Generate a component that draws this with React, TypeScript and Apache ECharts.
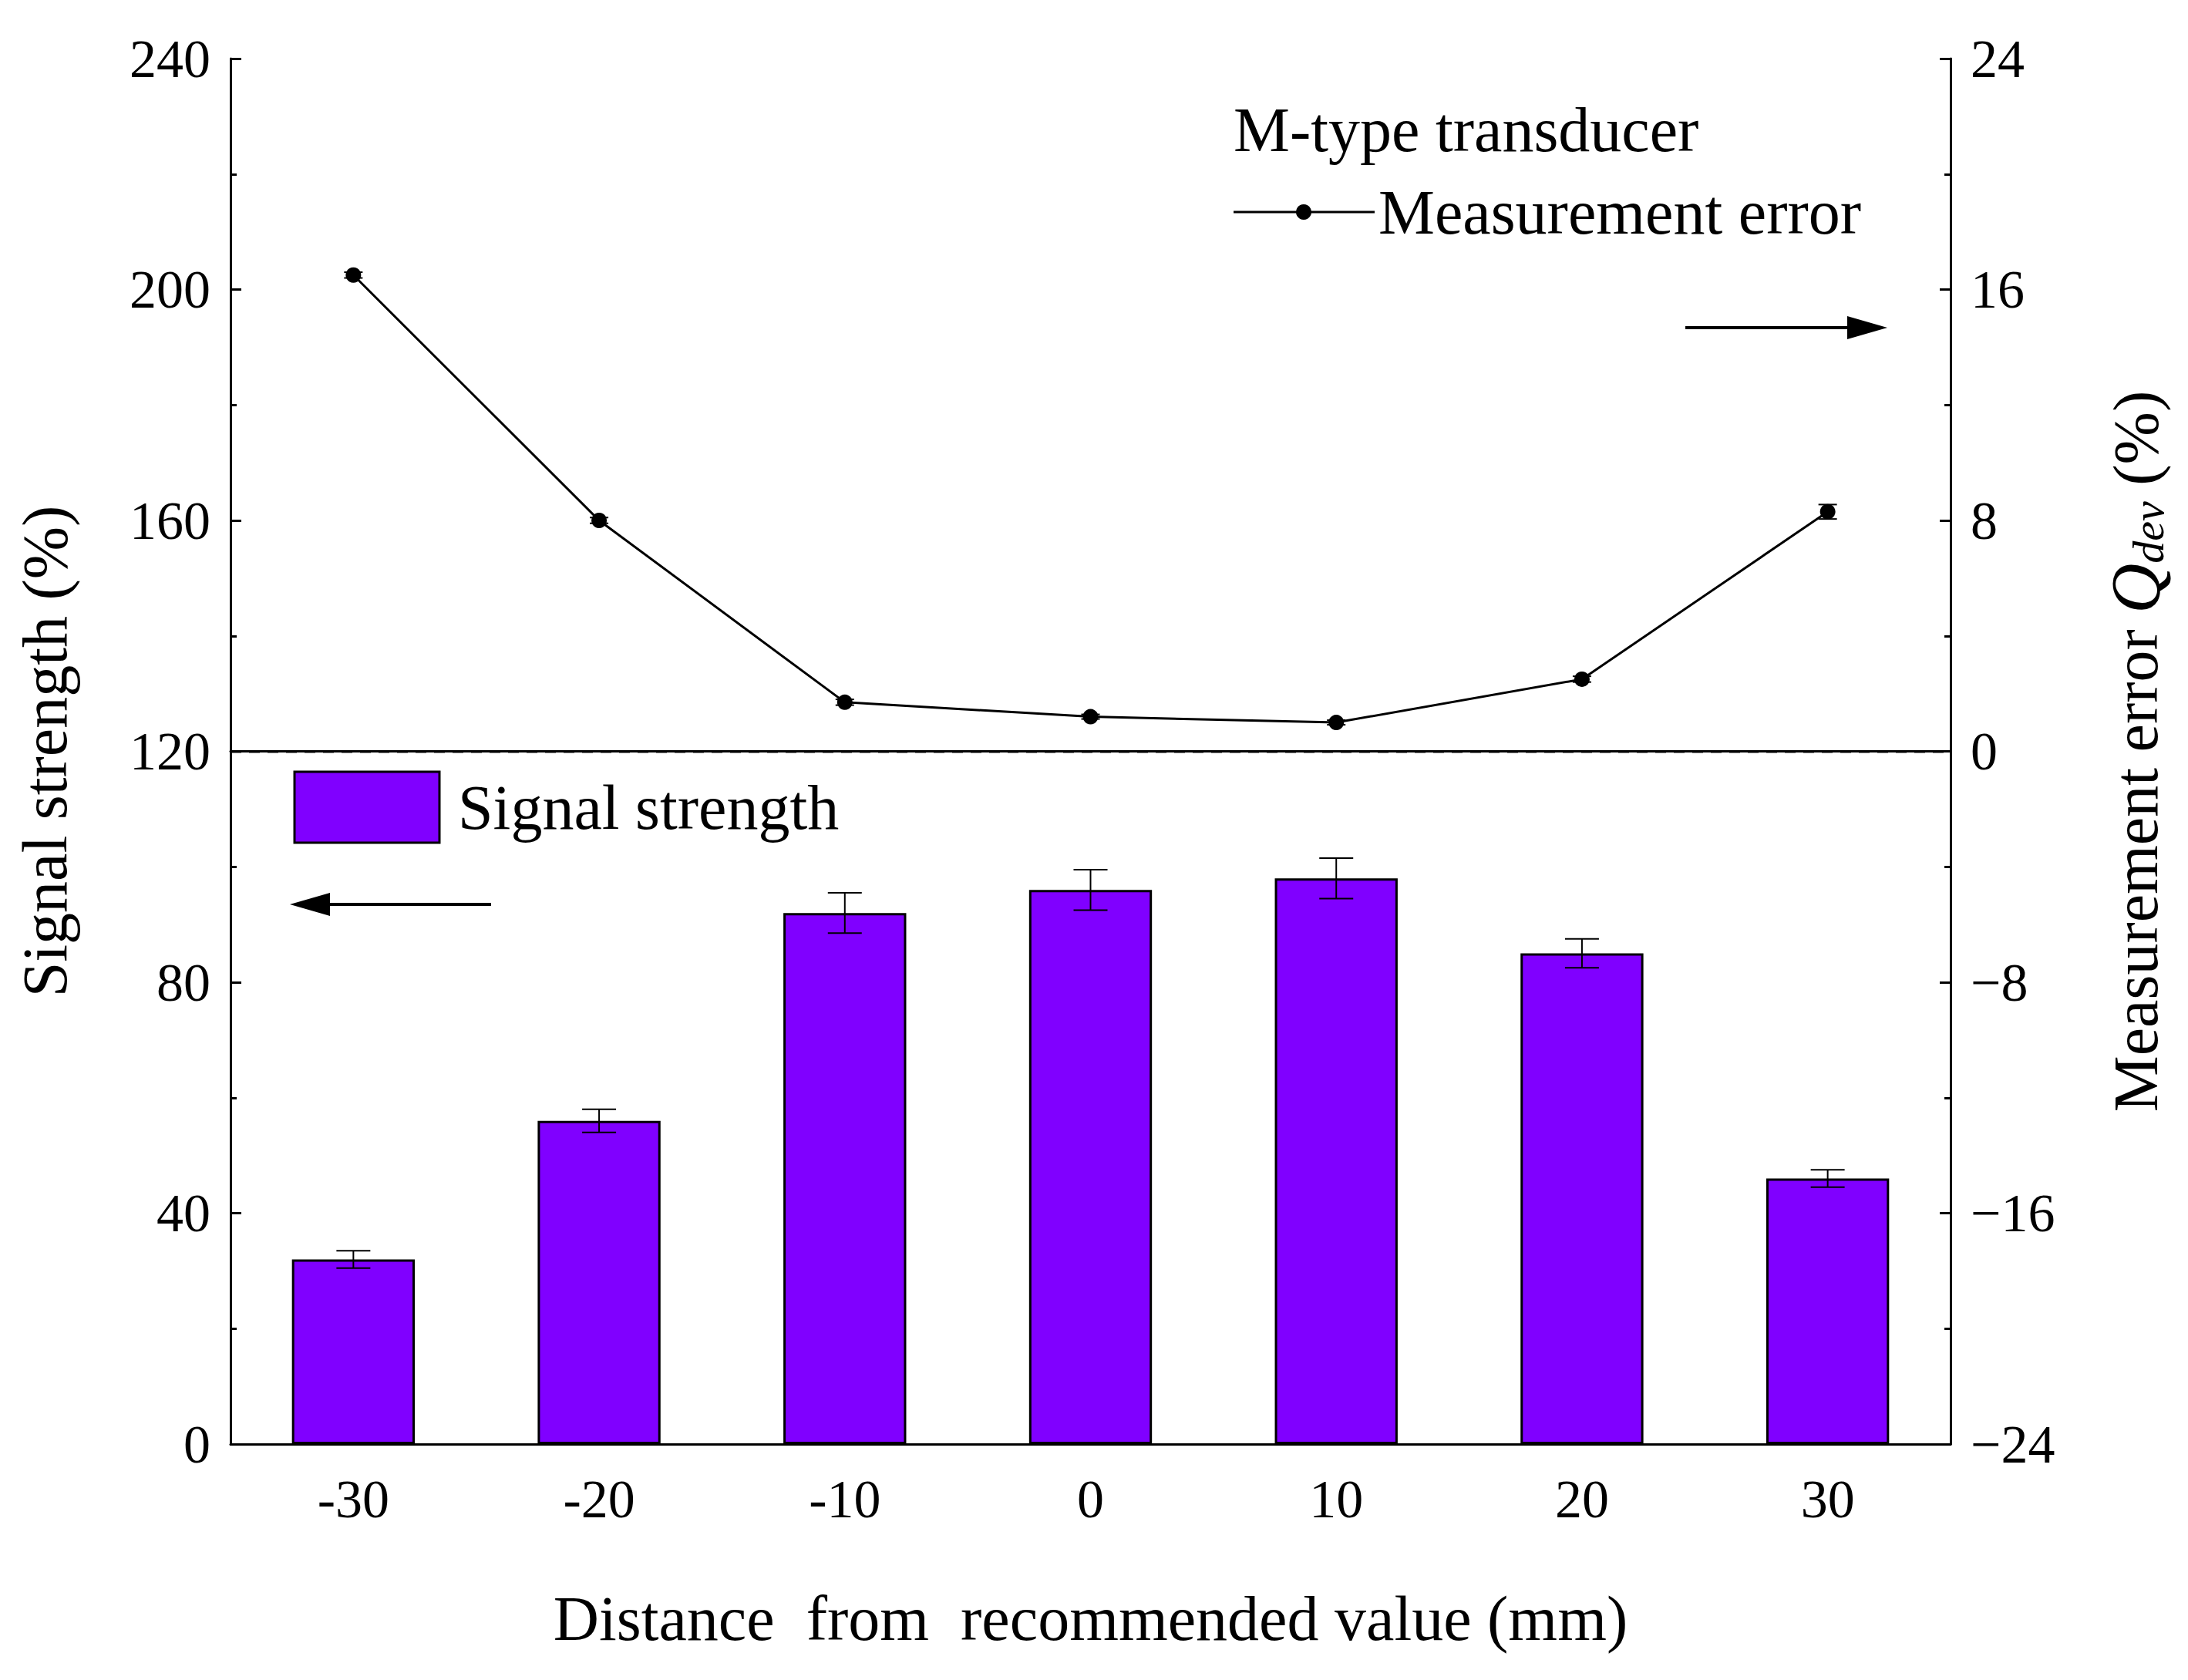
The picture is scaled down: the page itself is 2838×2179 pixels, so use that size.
import { useEffect, useRef } from "react";
import * as echarts from "echarts";

const categories = ["-30", "-20", "-10", "0", "10", "20", "30"];
const signalStrength = [32, 56, 92, 96, 98, 85, 46];
const signalError = [1.5, 2, 3.5, 3.5, 3.5, 2.5, 1.5];
const measurementError = [16.5, 8, 1.7, 1.2, 1.0, 2.5, 8.3];
const measurementErrorBar = [0.1, 0.1, 0.1, 0.08, 0.08, 0.1, 0.25];

const FONT = "Liberation Serif";

function errorBars(values: number[], errs: number[], yAxisIndex: number, capW: number) {
  return {
    type: "custom",
    yAxisIndex,
    z: 5,
    data: values.map((v, i) => [i, v - errs[i], v + errs[i]]),
    renderItem: (_p: any, api: any) => {
      const lo = api.coord([api.value(0), api.value(1)]);
      const hi = api.coord([api.value(0), api.value(2)]);
      const style = { stroke: "#000", lineWidth: 2 };
      return {
        type: "group",
        children: [
          { type: "line", shape: { x1: lo[0], y1: lo[1], x2: hi[0], y2: hi[1] }, style },
          { type: "line", shape: { x1: lo[0] - capW, y1: lo[1], x2: lo[0] + capW, y2: lo[1] }, style },
          { type: "line", shape: { x1: hi[0] - capW, y1: hi[1], x2: hi[0] + capW, y2: hi[1] }, style },
        ],
      };
    },
  };
}

export default function App() {
  const ref = useRef<HTMLDivElement | null>(null);

  useEffect(() => {
    if (!ref.current) return;
    const chart = echarts.init(ref.current, null, { renderer: "svg" });
    const axisLine = { show: true, lineStyle: { color: "#000", width: 3 } };
    const label = { color: "#000", fontFamily: FONT, fontSize: 70 };
    const nameStyle = { color: "#000", fontFamily: FONT, fontSize: 82 };
    chart.setOption({
      animation: false,
      backgroundColor: "#fff",
      textStyle: { fontFamily: FONT },
      grid: { left: 291, right: 300, top: 68, bottom: 298 },
      xAxis: [
        {
          type: "category",
          data: categories,
          axisLine,
          axisTick: { show: false },
          axisLabel: { ...label, margin: 36 },
          name: "Distance  from  recommended value (mm)",
          nameLocation: "middle",
          nameGap: 185,
          nameTextStyle: nameStyle,
        },
        {
          type: "category",
          data: categories,
          position: "top",
          axisLine,
          axisTick: { show: false },
          axisLabel: { show: false },
        },
      ],
      yAxis: [
        {
          type: "value",
          min: 0,
          max: 240,
          interval: 40,
          axisLine,
          axisTick: { show: true, inside: true, length: 14, lineStyle: { width: 3, color: "#000" } },
          minorTick: { show: true, splitNumber: 2, length: 8, lineStyle: { width: 3, color: "#000" } },
          splitLine: { show: false },
          axisLabel: { ...label, margin: 26 },
          name: "Signal strength (%)",
          nameLocation: "middle",
          nameGap: 200,
          nameTextStyle: nameStyle,
        },
        {
          type: "value",
          min: -24,
          max: 24,
          interval: 8,
          position: "right",
          axisLine,
          axisTick: { show: true, inside: true, length: 14, lineStyle: { width: 3, color: "#000" } },
          minorTick: { show: true, splitNumber: 2, length: 8, lineStyle: { width: 3, color: "#000" } },
          splitLine: { show: false },
          axisLabel: {
            ...label,
            margin: 26,
            formatter: (v: number) => (v < 0 ? "\u2212" + Math.abs(v) : String(v)),
          },
          name: "Measurement error {i|Q}{s|dev} (%)",
          nameLocation: "middle",
          nameRotate: 90,
          nameGap: 195,
          nameTextStyle: {
            ...nameStyle,
            rich: {
              i: { fontFamily: FONT, fontSize: 90, fontStyle: "italic", color: "#000" },
              s: { fontFamily: FONT, fontSize: 58, fontStyle: "italic", color: "#000", verticalAlign: "bottom", padding: [30, 0, 0, 0] },
            },
          },
        },
      ],
      series: [
        {
          type: "bar",
          data: signalStrength,
          barWidth: "50%",
          itemStyle: { color: "#8000ff", borderColor: "#000", borderWidth: 3 },
        },
        errorBars(signalStrength, signalError, 0, 22),
        {
          type: "line",
          yAxisIndex: 1,
          data: measurementError,
          symbol: "circle",
          symbolSize: 20,
          itemStyle: { color: "#000" },
          lineStyle: { color: "#000", width: 3 },
          z: 4,
        },
        errorBars(measurementError, measurementErrorBar, 1, 12),
      ],
      graphic: [
        { type: "line", shape: { x1: 291, y1: 967, x2: 2522, y2: 967 }, style: { stroke: "#000", lineWidth: 3, lineDash: [14, 10] } },
        { type: "rect", shape: { x: 374, y: 993, width: 188, height: 92 }, style: { fill: "#8000ff", stroke: "#000", lineWidth: 3 } },
        { type: "text", x: 586, y: 1039, style: { text: "Signal strength", font: `82px ${FONT}`, fill: "#000", textVerticalAlign: "middle" } },
        { type: "text", x: 1592, y: 160, style: { text: "M-type transducer", font: `82px ${FONT}`, fill: "#000", textVerticalAlign: "middle" } },
        { type: "line", shape: { x1: 1592, y1: 267, x2: 1775, y2: 267 }, style: { stroke: "#000", lineWidth: 3 } },
        { type: "circle", shape: { cx: 1683, cy: 267, r: 10 }, style: { fill: "#000" } },
        { type: "text", x: 1780, y: 267, style: { text: "Measurement error", font: `82px ${FONT}`, fill: "#000", textVerticalAlign: "middle" } },
        { type: "line", shape: { x1: 629, y1: 1165, x2: 400, y2: 1165 }, style: { stroke: "#000", lineWidth: 4 } },
        { type: "polygon", shape: { points: [[368, 1165], [420, 1150], [420, 1180]] }, style: { fill: "#000" } },
        { type: "line", shape: { x1: 2178, y1: 417, x2: 2400, y2: 417 }, style: { stroke: "#000", lineWidth: 4 } },
        { type: "polygon", shape: { points: [[2440, 417], [2388, 402], [2388, 432]] }, style: { fill: "#000" } },
      ],
    });
    return () => chart.dispose();
  }, []);

  return <div ref={ref} style={{ width: 2822, height: 2163 }} />;
}
